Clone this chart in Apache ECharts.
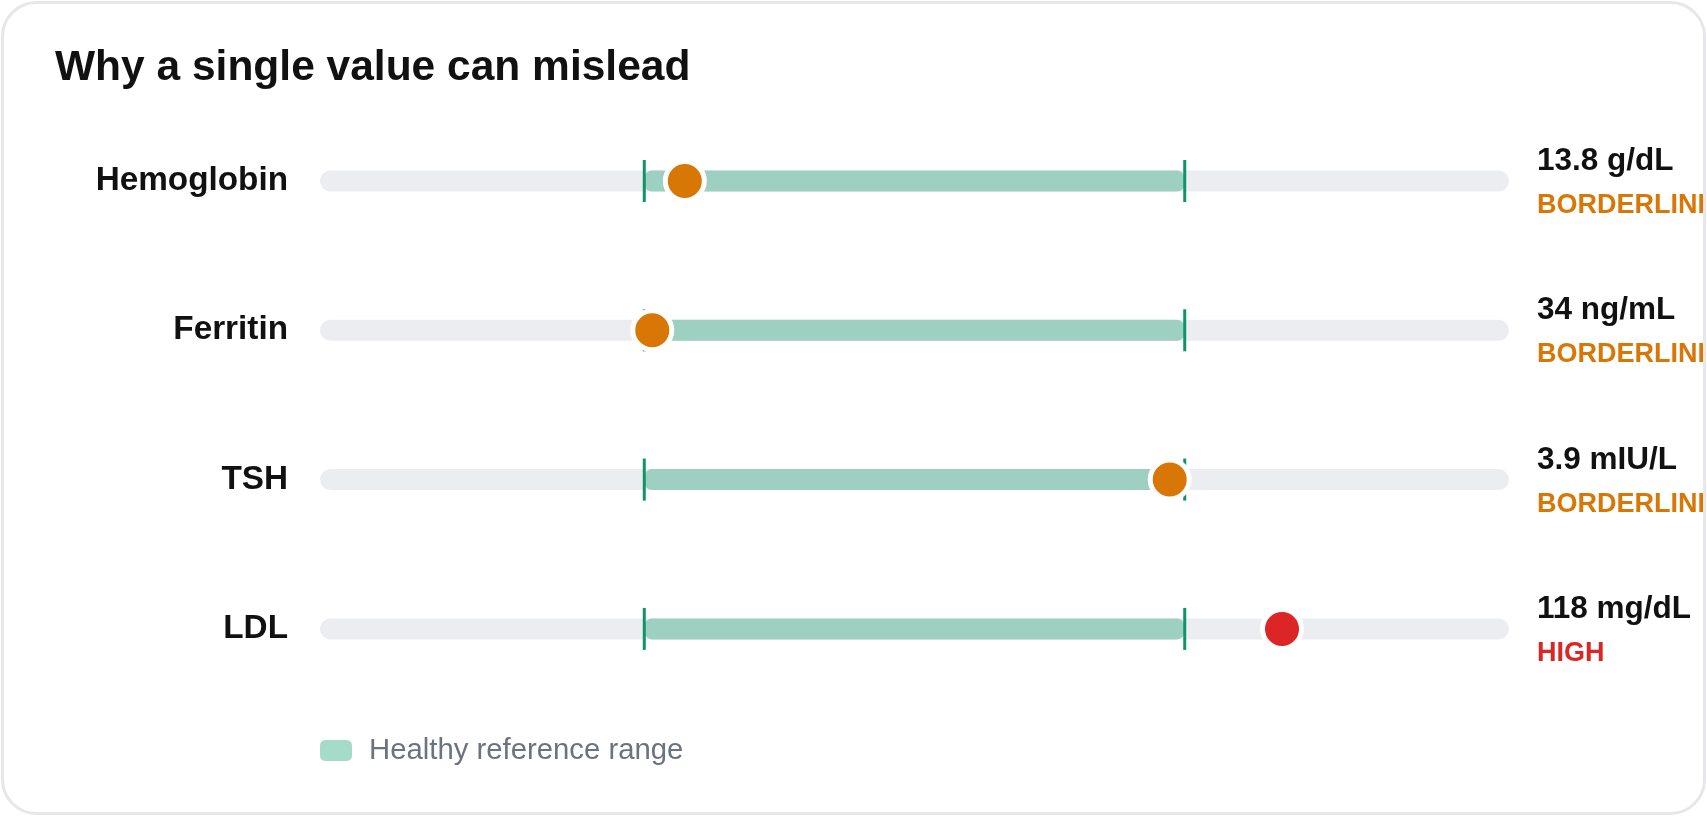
<!DOCTYPE html>
<html>
<head>
<meta charset="utf-8">
<title>Why a single value can mislead</title>
<script src="https://cdn.jsdelivr.net/npm/echarts@6/dist/echarts.min.js"></script>
<style>
  html, body { margin: 0; padding: 0; background: #fff; }
  #chart { width: 1707px; height: 816px; }
</style>
</head>
<body>
<div id="chart"></div>
<script>
// lab results, one row each
const markers = ['Hemoglobin', 'Ferritin', 'TSH', 'LDL'];
const values = [13.8, 34, 3.9, 118];
const units = ['g/dL', 'ng/mL', 'mIU/L', 'mg/dL'];
const refLow = [13.5, 30, 0.4, 0];
const refHigh = [17.5, 300, 4.0, 100];
const statuses = ['BORDERLINE', 'BORDERLINE', 'BORDERLINE', 'HIGH'];

const FONT = '"Liberation Sans", Arial, sans-serif';
const statusColor = { BORDERLINE: '#D97706', HIGH: '#DC2626' };
const rowY = 181, rowGap = 149.3, rowH = 40;
const TRACK_H = 21;

const chart = echarts.init(document.getElementById('chart'));

// track + healthy range + range ticks, drawn from the axis scale
function renderTrack(params, api) {
    const cs = params.coordSys;
    const p0 = api.coord([api.value(0), 0]);
    const p1 = api.coord([api.value(1), 0]);
    const y = p0[1];
    return {
        type: 'group',
        children: [
            { type: 'rect', shape: { x: cs.x, y: y - TRACK_H / 2, width: cs.width, height: TRACK_H, r: TRACK_H / 2 }, style: { fill: '#ECEDF1' } },
            { type: 'rect', shape: { x: p0[0], y: y - TRACK_H / 2, width: p1[0] - p0[0], height: TRACK_H, r: 8 }, style: { fill: '#9ED0C1' } },
            { type: 'rect', shape: { x: p0[0] - 1.5, y: y - 21, width: 3, height: 42 }, style: { fill: '#0E9467' } },
            { type: 'rect', shape: { x: p1[0] - 1.5, y: y - 21, width: 3, height: 42 }, style: { fill: '#0E9467' } }
        ]
    };
}

const grid = [], xAxis = [], yAxis = [], series = [];
markers.forEach(function (name, i) {
    const span = refHigh[i] - refLow[i];
    grid.push({
        left: 320, right: 198, top: rowY + i * rowGap - rowH / 2, height: rowH,
        containLabel: false, outerBoundsMode: 'none'
    });
    xAxis.push({
        gridIndex: i, type: 'value', show: false,
        min: refLow[i] - 0.6 * span, max: refHigh[i] + 0.6 * span
    });
    yAxis.push({
        gridIndex: i, type: 'category', data: [name],
        axisLine: { show: false }, axisTick: { show: false }, splitLine: { show: false },
        axisLabel: { margin: 32, fontSize: 33.3, fontWeight: 'bold', color: '#111', fontFamily: FONT, padding: [9, 0, 0, 0] }
    });
    yAxis.push({
        gridIndex: i, type: 'category', position: 'right', data: [name],
        axisLine: { show: false }, axisTick: { show: false }, splitLine: { show: false },
        axisLabel: {
            margin: 28, align: 'left', padding: [5, 0, 0, 0],
            formatter: function () {
                const key = statuses[i] === 'HIGH' ? 'h' : 'b';
                return '{v|' + values[i] + ' ' + units[i] + '}\n{' + key + '|' + statuses[i] + '}';
            },
            rich: {
                v: { fontSize: 31.5, fontWeight: 'bold', color: '#111', fontFamily: FONT, lineHeight: 44 },
                b: { fontSize: 27, fontWeight: 'bold', color: statusColor.BORDERLINE, fontFamily: FONT, lineHeight: 44 },
                h: { fontSize: 27, fontWeight: 'bold', color: statusColor.HIGH, fontFamily: FONT, lineHeight: 44 }
            }
        }
    });
    series.push({
        name: 'Healthy reference range',
        type: 'custom',
        xAxisIndex: i, yAxisIndex: i * 2,
        renderItem: renderTrack,
        itemStyle: { color: '#A6DBCA' },
        encode: { x: [0, 1], y: 2 },
        data: [[refLow[i], refHigh[i], 0]],
        silent: true,
        z: 2
    });
    series.push({
        name: name,
        type: 'scatter',
        xAxisIndex: i, yAxisIndex: i * 2,
        data: [[values[i], 0]],
        symbolSize: 39,
        itemStyle: { color: statusColor[statuses[i]], borderColor: '#fff', borderWidth: 5, opacity: 1 },
        z: 5
    });
});

chart.setOption({
    backgroundColor: '#fff',
    animation: false,
    title: {
        text: 'Why a single value can mislead',
        left: 55, top: 47, padding: 0,
        textStyle: { fontSize: 42.5, fontWeight: 'bold', color: '#111', fontFamily: FONT }
    },
    legend: {
        data: ['Healthy reference range'],
        left: 320, top: 736, padding: 0,
        icon: 'roundRect', itemWidth: 32, itemHeight: 21,
        textStyle: { fontSize: 29.3, color: '#6B7280', fontFamily: FONT, padding: [0, 0, 0, 12] }
    },
    grid: grid,
    xAxis: xAxis,
    yAxis: yAxis,
    series: series,
    graphic: [
        // card outline over everything, clips the right-hand text visually
        { type: 'rect', z: 100, shape: { x: 1704.5, y: 0, width: 3, height: 816 }, style: { fill: '#fff' } },
        { type: 'rect', z: 101, shape: { x: 2.5, y: 2.5, width: 1702, height: 811, r: 34 }, style: { fill: 'none', stroke: '#E5E7EB', lineWidth: 3 } }
    ]
});
</script>
</body>
</html>
